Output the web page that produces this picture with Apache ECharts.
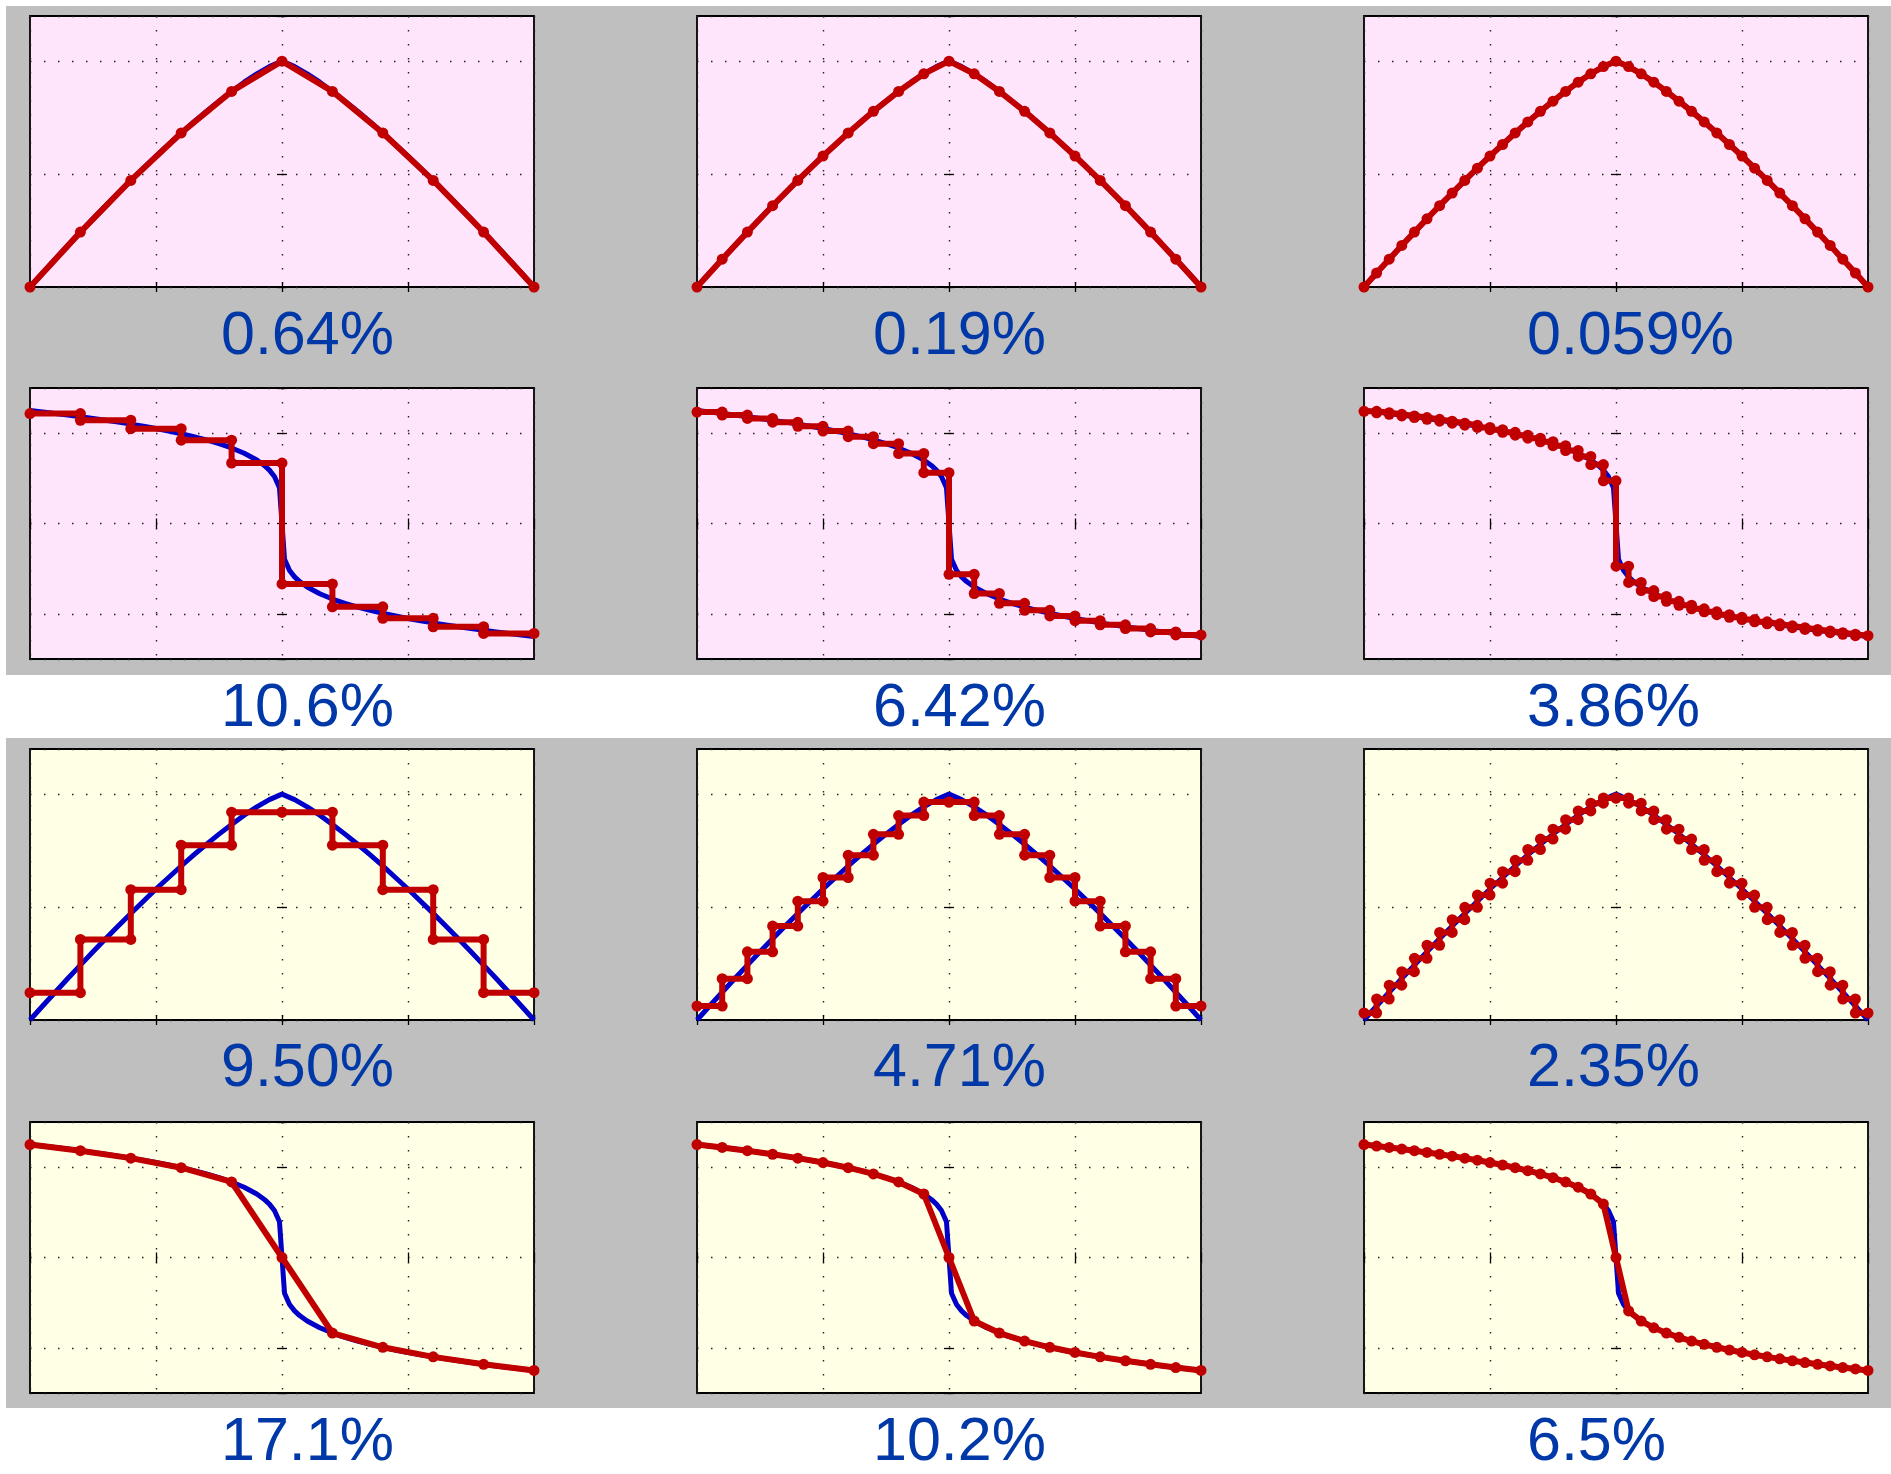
<!DOCTYPE html>
<html>
<head>
<meta charset="utf-8">
<script src="https://cdn.jsdelivr.net/npm/echarts@6/dist/echarts.min.js"></script>
<style>
html, body { margin: 0; padding: 0; background: #fff; }
#chart { width: 1891px; height: 1474px; }
</style>
</head>
<body>
<div id="chart"></div>
<script>
// node positions on [-1, 1]
const x11 = [-1, -0.8, -0.6, -0.4, -0.2, 0, 0.2, 0.4, 0.6, 0.8, 1];
const x21 = [-1, -0.9, -0.8, -0.7, -0.6, -0.5, -0.4, -0.3, -0.2, -0.1, 0,
  0.1, 0.2, 0.3, 0.4, 0.5, 0.6, 0.7, 0.8, 0.9, 1];
const x41 = [-1, -0.95, -0.9, -0.85, -0.8, -0.75, -0.7, -0.65, -0.6, -0.55, -0.5,
  -0.45, -0.4, -0.35, -0.3, -0.25, -0.2, -0.15, -0.1, -0.05, 0,
  0.05, 0.1, 0.15, 0.2, 0.25, 0.3, 0.35, 0.4, 0.45, 0.5,
  0.55, 0.6, 0.65, 0.7, 0.75, 0.8, 0.85, 0.9, 0.95, 1];

// blue reference curves
const peakX = x41;
const peakY = [0, 0.062, 0.123, 0.184, 0.243, 0.302, 0.360, 0.416, 0.472, 0.526, 0.580,
  0.631, 0.682, 0.731, 0.778, 0.823, 0.866, 0.907, 0.944, 0.976, 1.000,
  0.976, 0.944, 0.907, 0.866, 0.823, 0.778, 0.731, 0.682, 0.631, 0.580,
  0.526, 0.472, 0.416, 0.360, 0.302, 0.243, 0.184, 0.123, 0.062, 0];
const dropX = [-1, -0.95, -0.9, -0.85, -0.8, -0.75, -0.7, -0.65, -0.6, -0.55, -0.5, -0.45,
  -0.4, -0.35, -0.3, -0.25, -0.2, -0.15, -0.1, -0.07, -0.05, -0.03, -0.01,
  0.01, 0.03, 0.05, 0.07, 0.1, 0.15, 0.2, 0.25, 0.3, 0.35, 0.4, 0.45, 0.5,
  0.55, 0.6, 0.65, 0.7, 0.75, 0.8, 0.85, 0.9, 0.95, 1];
const dropY = [1.250, 1.234, 1.218, 1.200, 1.182, 1.163, 1.143, 1.122, 1.100, 1.077, 1.051, 1.024,
  0.994, 0.961, 0.925, 0.884, 0.836, 0.778, 0.703, 0.643, 0.591, 0.520, 0.395,
  -0.395, -0.520, -0.591, -0.643, -0.703, -0.778, -0.836, -0.884, -0.925, -0.961, -0.994,
  -1.024, -1.051, -1.077, -1.100, -1.122, -1.143, -1.163, -1.182, -1.200, -1.218, -1.234, -1.250];

// row 1: node values (peak)
const peakNodes11 = [0, 0.243, 0.472, 0.682, 0.866, 1.000, 0.866, 0.682, 0.472, 0.243, 0];
const peakNodes21 = [0, 0.123, 0.243, 0.360, 0.472, 0.580, 0.682, 0.778, 0.866, 0.944, 1.000,
  0.944, 0.866, 0.778, 0.682, 0.580, 0.472, 0.360, 0.243, 0.123, 0];
const peakNodes41 = peakY;

// row 2: cell values (drop)
const dropCells10 = [1.217, 1.143, 1.050, 0.922, 0.669, -0.669, -0.922, -1.050, -1.143, -1.217];
const dropCells20 = [1.234, 1.200, 1.163, 1.122, 1.076, 1.023, 0.961, 0.883, 0.775, 0.562,
  -0.562, -0.775, -0.883, -0.961, -1.023, -1.076, -1.122, -1.163, -1.200, -1.234];
const dropCells40 = [1.242, 1.226, 1.209, 1.191, 1.173, 1.153, 1.133, 1.111, 1.089, 1.064,
  1.038, 1.009, 0.978, 0.944, 0.905, 0.861, 0.808, 0.742, 0.652, 0.473,
  -0.473, -0.652, -0.742, -0.808, -0.861, -0.905, -0.944, -0.978, -1.009, -1.038,
  -1.064, -1.089, -1.111, -1.133, -1.153, -1.173, -1.191, -1.209, -1.226, -1.242];

// row 3: cell values (peak)
const peakCells10 = [0.121, 0.357, 0.577, 0.774, 0.920, 0.920, 0.774, 0.577, 0.357, 0.121];
const peakCells20 = [0.062, 0.183, 0.302, 0.416, 0.526, 0.631, 0.730, 0.822, 0.905, 0.965,
  0.965, 0.905, 0.822, 0.730, 0.631, 0.526, 0.416, 0.302, 0.183, 0.062];
const peakCells40 = [0.031, 0.093, 0.154, 0.214, 0.273, 0.331, 0.388, 0.444, 0.499, 0.553,
  0.606, 0.657, 0.707, 0.755, 0.801, 0.845, 0.887, 0.926, 0.960, 0.983,
  0.983, 0.960, 0.926, 0.887, 0.845, 0.801, 0.755, 0.707, 0.657, 0.606,
  0.553, 0.499, 0.444, 0.388, 0.331, 0.273, 0.214, 0.154, 0.093, 0.031];

// row 4: node values (drop)
const dropNodes11 = [1.250, 1.182, 1.100, 0.994, 0.836, 0, -0.836, -0.994, -1.100, -1.182, -1.250];
const dropNodes21 = [1.250, 1.218, 1.182, 1.143, 1.100, 1.051, 0.994, 0.925, 0.836, 0.703, 0,
  -0.703, -0.836, -0.925, -0.994, -1.051, -1.100, -1.143, -1.182, -1.218, -1.250];
const dropNodes41 = [1.250, 1.234, 1.218, 1.200, 1.182, 1.163, 1.143, 1.122, 1.100, 1.077, 1.051,
  1.024, 0.994, 0.961, 0.925, 0.884, 0.836, 0.778, 0.703, 0.591, 0,
  -0.591, -0.703, -0.778, -0.836, -0.884, -0.925, -0.961, -0.994, -1.024, -1.051,
  -1.077, -1.100, -1.122, -1.143, -1.163, -1.182, -1.200, -1.218, -1.234, -1.250];

// error labels under each panel
const labelsRow1 = ['0.64%', '0.19%', '0.059%'];
const labelsRow2 = ['10.6%', '6.42%', '3.86%'];
const labelsRow3 = ['9.50%', '4.71%', '2.35%'];
const labelsRow4 = ['17.1%', '10.2%', '6.5%'];

const nodeX = [x11, x21, x41];

const rows = [
  { bg: '#ffe5fb', peak: true, bx: peakX, by: peakY, red: [peakNodes11, peakNodes21, peakNodes41], stair: false, labels: labelsRow1, ly: 337 },
  { bg: '#ffe5fb', peak: false, bx: dropX, by: dropY, red: [dropCells10, dropCells20, dropCells40], stair: true, labels: labelsRow2, ly: 709 },
  { bg: '#ffffe5', peak: true, bx: peakX, by: peakY, red: [peakCells10, peakCells20, peakCells40], stair: true, labels: labelsRow3, ly: 1069 },
  { bg: '#ffffe5', peak: false, bx: dropX, by: dropY, red: [dropNodes11, dropNodes21, dropNodes41], stair: false, labels: labelsRow4, ly: 1443 }
];

const gridLeft = [30, 697, 1364];
const gridTop = [16, 388, 749, 1122];
const labelLeft = [221, 873, 1527];

const grids = [], xAxes = [], yAxes = [], series = [], texts = [];
const tick = { show: true, inside: true, length: 5, lineStyle: { color: '#000', width: 1.3 } };
const dots = { show: true, lineStyle: { color: '#222', width: 1.4, type: [1.5, 12.5] } };

rows.forEach((row, r) => {
  for (let c = 0; c < 3; c++) {
    const g = grids.length;
    grids.push({
      left: gridLeft[c], top: gridTop[r], width: 504, height: 271,
      show: true, backgroundColor: row.bg, borderColor: '#000', borderWidth: 1.8
    });
    ['bottom', 'top'].forEach((pos, k) => {
      xAxes.push({
        gridIndex: g, type: 'value', position: pos, min: -1, max: 1, interval: 0.5,
        axisLine: { show: false }, axisLabel: { show: false }, axisTick: tick,
        splitLine: k === 0 ? dots : { show: false }
      });
    });
    ['left', 'right'].forEach((pos, k) => {
      const y = {
        gridIndex: g, type: 'value', position: pos,
        axisLine: { show: false }, axisLabel: { show: false }, axisTick: tick,
        splitLine: k === 0 ? dots : { show: false }
      };
      if (row.peak) { y.min = 0; y.max = 1.2; y.interval = 0.5; }
      else { y.min = -1.5; y.max = 1.5; y.splitNumber = 3; }
      yAxes.push(y);
    });

    series.push({
      type: 'line', xAxisIndex: 2 * g, yAxisIndex: 2 * g,
      data: row.bx.map((x, i) => [x, row.by[i]]),
      symbol: 'none', clip: false, silent: true, z: 2,
      lineStyle: { color: '#0000c8', width: 5, join: 'round' }
    });

    const xs = nodeX[c], vals = row.red[c];
    let pts;
    if (row.stair) {
      pts = [];
      vals.forEach((v, i) => { pts.push([xs[i], v], [xs[i + 1], v]); });
    } else {
      pts = xs.map((x, i) => [x, vals[i]]);
    }
    series.push({
      type: 'line', xAxisIndex: 2 * g, yAxisIndex: 2 * g,
      data: pts, symbol: 'circle', symbolSize: 11, showAllSymbol: true,
      clip: false, silent: true, z: 3,
      itemStyle: { color: '#c00000' },
      lineStyle: { color: '#c00000', width: 6, join: 'round', cap: 'round' }
    });

    texts.push({
      type: 'text', x: labelLeft[c], y: row.ly, z: 10,
      style: {
        text: row.labels[c], fill: '#0038a8', fontSize: 61,
        fontFamily: '"Liberation Sans", sans-serif', align: 'left', verticalAlign: 'middle'
      }
    });
  }
});

const chart = echarts.init(document.getElementById('chart'));
chart.setOption({
  animation: false,
  backgroundColor: '#fff',
  grid: grids,
  xAxis: xAxes,
  yAxis: yAxes,
  series: series,
  graphic: {
    elements: [
      { type: 'rect', z: -10, shape: { x: 6, y: 6, width: 1885, height: 669 }, style: { fill: '#bfbfbf' } },
      { type: 'rect', z: -10, shape: { x: 6, y: 738, width: 1885, height: 670 }, style: { fill: '#bfbfbf' } }
    ].concat(texts)
  }
});
</script>
</body>
</html>
